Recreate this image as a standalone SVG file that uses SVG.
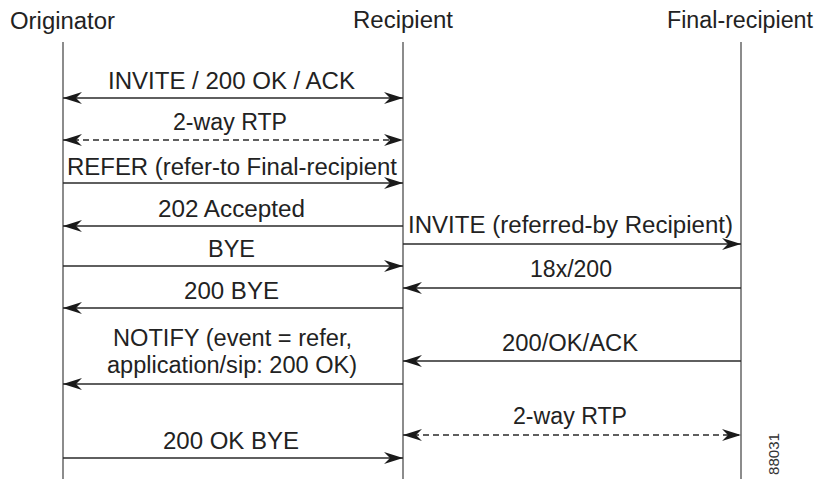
<svg xmlns="http://www.w3.org/2000/svg" width="819" height="479" viewBox="0 0 819 479">
  <style>
    .head { font-family: "Liberation Sans", Arial, sans-serif; font-size: 23px; fill: #222; text-anchor: middle; }
    .lbl { font-family: "Liberation Sans", Arial, sans-serif; font-size: 23px; fill: #222; text-anchor: middle; }
    .life { stroke: #8c8c8c; stroke-width: 2; fill: none; }
    .msg { stroke: #2a2a2a; stroke-width: 1.6; fill: none; marker-end: url(#arrow); }
    .both { marker-start: url(#arrow); }
    .dash { stroke-dasharray: 6 4; }
    .tag { font-family: "Liberation Sans", Arial, sans-serif; font-size: 14px; fill: #333; }
  </style>
  <defs>
    <marker id="arrow" viewBox="-20 -7 21 14" refX="0" refY="0" markerWidth="21" markerHeight="14" markerUnits="userSpaceOnUse" orient="auto-start-reverse">
      <path d="M0,0 L-19,-6 L-13,0 L-19,6 Z" fill="#1a1a1a"/>
    </marker>
  </defs>
  <rect width="819" height="479" fill="#ffffff"/>

  <!-- participants with their lifelines -->
  <g id="originator">
    <text class="head" x="62.5" y="29" textLength="105" lengthAdjust="spacingAndGlyphs">Originator</text>
    <line class="life" x1="63" y1="42" x2="63" y2="479"/>
  </g>
  <g id="recipient">
    <text class="head" x="403" y="28" textLength="100" lengthAdjust="spacingAndGlyphs">Recipient</text>
    <line class="life" x1="403" y1="42" x2="403" y2="479"/>
  </g>
  <g id="final-recipient">
    <text class="head" x="740" y="28" textLength="146" lengthAdjust="spacingAndGlyphs">Final-recipient</text>
    <line class="life" x1="741" y1="42" x2="741" y2="479"/>
  </g>

  <!-- messages -->
  <g id="connectors">
    <line class="msg both" x1="63" y1="98" x2="403" y2="98"/>
    <text class="lbl" x="231.5" y="89" textLength="247" lengthAdjust="spacingAndGlyphs">INVITE / 200 OK / ACK</text>

    <line class="msg both dash" x1="63" y1="140" x2="403" y2="140"/>
    <text class="lbl" x="230" y="130" textLength="114" lengthAdjust="spacingAndGlyphs">2-way RTP</text>

    <line class="msg" x1="63" y1="183" x2="403" y2="183"/>
    <text class="lbl" x="232" y="175" textLength="330" lengthAdjust="spacingAndGlyphs">REFER (refer-to Final-recipient</text>

    <line class="msg" x1="403" y1="226" x2="63" y2="226"/>
    <text class="lbl" x="231.5" y="217" textLength="147" lengthAdjust="spacingAndGlyphs">202 Accepted</text>

    <line class="msg" x1="403" y1="244" x2="741" y2="244"/>
    <text class="lbl" x="570.5" y="233" textLength="325" lengthAdjust="spacingAndGlyphs">INVITE (referred-by Recipient)</text>

    <line class="msg" x1="63" y1="266" x2="403" y2="266"/>
    <text class="lbl" x="231.5" y="257" textLength="47" lengthAdjust="spacingAndGlyphs">BYE</text>

    <line class="msg" x1="741" y1="288" x2="403" y2="288"/>
    <text class="lbl" x="571" y="277" textLength="82" lengthAdjust="spacingAndGlyphs">18x/200</text>

    <line class="msg" x1="403" y1="308" x2="63" y2="308"/>
    <text class="lbl" x="231.5" y="299" textLength="95" lengthAdjust="spacingAndGlyphs">200 BYE</text>

    <line class="msg" x1="741" y1="361" x2="403" y2="361"/>
    <text class="lbl" x="570" y="351" textLength="136" lengthAdjust="spacingAndGlyphs">200/OK/ACK</text>

    <line class="msg" x1="403" y1="384" x2="63" y2="384"/>
    <text class="lbl" x="232.5" y="346" textLength="239" lengthAdjust="spacingAndGlyphs">NOTIFY (event = refer,</text>
    <text class="lbl" x="232" y="373" textLength="250" lengthAdjust="spacingAndGlyphs">application/sip: 200 OK)</text>

    <line class="msg both dash" x1="403" y1="435" x2="741" y2="435"/>
    <text class="lbl" x="570" y="424" textLength="114" lengthAdjust="spacingAndGlyphs">2-way RTP</text>

    <line class="msg" x1="63" y1="458" x2="403" y2="458"/>
    <text class="lbl" x="231" y="449" textLength="136" lengthAdjust="spacingAndGlyphs">200 OK BYE</text>
  </g>

  <!-- figure number -->
  <text class="tag" transform="translate(779,475) rotate(-90)" textLength="42" lengthAdjust="spacingAndGlyphs">88031</text>
</svg>
